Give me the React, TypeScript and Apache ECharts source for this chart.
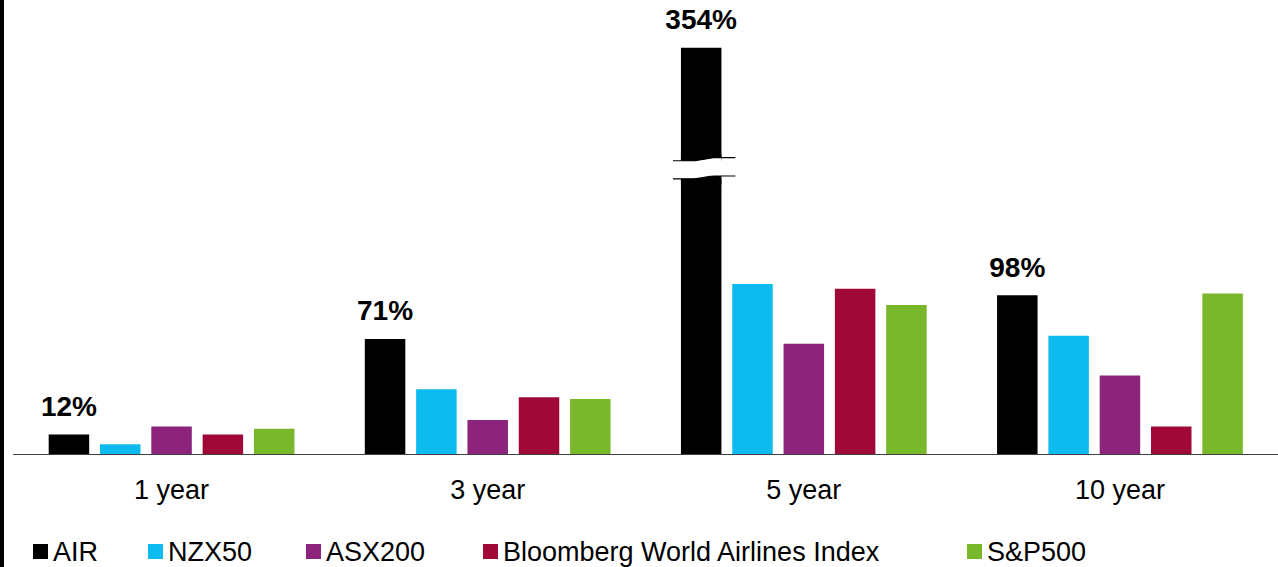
import React, { useEffect, useRef } from "react";
import * as echarts from "echarts";

const categories = ["1 year", "3 year", "5 year", "10 year"];
const seriesNames = ["AIR", "NZX50", "ASX200", "Bloomberg World Airlines Index", "S&P500"];
const airValues = [12, 71, 354, 98];
const nzx50Values = [6, 40, 105, 73];
const asx200Values = [17, 21, 68, 48.5];
const bloombergValues = [12, 35, 102, 17];
const sp500Values = [15.6, 34, 92, 99];
const seriesColors = ["#000000", "#0DBBEF", "#8B247A", "#A00837", "#78B82A"];
const legendLefts = [33, 148, 306, 483, 967];
const breakStart = 170;
const breakEnd = 284.7;
const brokenIndex = 2;

const FONT = "'Liberation Sans', Arial, Helvetica, sans-serif";

export default function App() {
  const ref = useRef<HTMLDivElement>(null);
  useEffect(() => {
    document.body.style.margin = "0";
    const chart = echarts.init(ref.current!, null, { renderer: "svg" });
    const allValues = [airValues, nzx50Values, asx200Values, bloombergValues, sp500Values];
    const series = seriesNames.map((name, i) => ({
      name,
      type: "bar",
      data: allValues[i],
      barWidth: 40.5,
      barGap: "26.7%",
      itemStyle: { color: seriesColors[i] },
      label:
        i === 0
          ? {
              show: true,
              position: "top",
              distance: 14,
              formatter: "{c}%",
              fontSize: 28,
              fontWeight: "bold",
              fontFamily: FONT,
              color: "#000",
            }
          : { show: false },
    }));
    const edgeRect = {
      id: "edge",
      type: "rect",
      left: 0,
      top: 0,
      shape: { width: 4, height: 567 },
      style: { fill: "#000" },
    };
    chart.setOption({
      animation: false,
      textStyle: { fontFamily: FONT },
      graphic: [edgeRect],
      legend: seriesNames.map((name, i) => ({
        data: [name],
        left: legendLefts[i],
        top: 538,
        padding: 0,
        icon: "rect",
        itemWidth: 15,
        itemHeight: 15,
        textStyle: { fontSize: 27, color: "#000", fontFamily: FONT },
        selectedMode: false,
      })),
      grid: { left: 13.5, right: 0, top: 47.7, bottom: 113, containLabel: false },
      xAxis: {
        type: "category",
        data: categories,
        axisTick: { show: false },
        axisLine: { lineStyle: { color: "#404040", width: 1 } },
        axisLabel: { fontSize: 27, color: "#000", margin: 22, fontFamily: FONT },
      },
      yAxis: {
        type: "value",
        min: 0,
        max: 354,
        show: true,
        axisLine: { show: false },
        axisTick: { show: false },
        axisLabel: { show: false },
        splitLine: { show: false },
        breaks: [{ start: breakStart, end: breakEnd, gap: 11.5 }],
        breakArea: {
          show: true,
          itemStyle: { color: "#fff", borderColor: "#000", borderWidth: 0, opacity: 1 },
          zigzagAmplitude: 0,
          expandOnClick: false,
        },
      },
      series,
    });

    // decorative wavy break symbol on the broken bar
    try {
      const data = (chart as any).getModel().getSeriesByIndex(0).getData();
      const lay = data.getItemLayout(brokenIndex);
      const x0 = Math.min(lay.x, lay.x + lay.width);
      const x1 = Math.max(lay.x, lay.x + lay.width);
      const yTop = chart.convertToPixel({ yAxisIndex: 0 }, breakEnd) as number;
      const yBot = chart.convertToPixel({ yAxisIndex: 0 }, breakStart) as number;
      const xa = x0 - 8;
      const xb = x1 + 14;
      const ease = (x: number) => {
        const t = (x - xa) / (xb - xa);
        const u = Math.min(1, Math.max(0, (t - 0.3) / 0.4));
        return u * u * (3 - 2 * u);
      };
      const upper = (x: number) => yTop + 0.8 + (-3.2) * ease(x);
      const lower = (x: number) => yBot + 0.2 + (-2.8) * ease(x);
      const N = 40;
      const sample = (f: (x: number) => number, a: number, b: number) => {
        const pts: number[][] = [];
        for (let k = 0; k <= N; k++) {
          const x = a + ((b - a) * k) / N;
          pts.push([x, f(x)]);
        }
        return pts;
      };
      const upBar = sample(upper, x0, x1);
      const loBar = sample(lower, x0, x1);
      const topPoly = [[x0, yTop - 6], [x1, yTop - 6], ...upBar.slice().reverse()];
      const botPoly = [...loBar, [x1, yBot + 6], [x0, yBot + 6]];
      const whitePoly = [...upBar, ...loBar.slice().reverse()];
      chart.setOption({
        graphic: [
          edgeRect,
          { id: "bw", type: "polygon", z: 100, shape: { points: whitePoly }, style: { fill: "#fff" } },
          { id: "bt", type: "polygon", z: 101, shape: { points: topPoly }, style: { fill: "#000" } },
          { id: "bb", type: "polygon", z: 101, shape: { points: botPoly }, style: { fill: "#000" } },
          {
            id: "lu",
            type: "polyline",
            z: 102,
            shape: { points: sample(upper, xa, xb) },
            style: { stroke: "#000", lineWidth: 1.2, fill: null },
          },
          {
            id: "ll",
            type: "polyline",
            z: 102,
            shape: { points: sample(lower, xa, xb) },
            style: { stroke: "#000", lineWidth: 1.2, fill: null },
          },
        ],
      });
    } catch (e) {
      // ignore decoration failure
    }
    return () => chart.dispose();
  }, []);
  return <div ref={ref} style={{ width: 1278, height: 567 }} />;
}
